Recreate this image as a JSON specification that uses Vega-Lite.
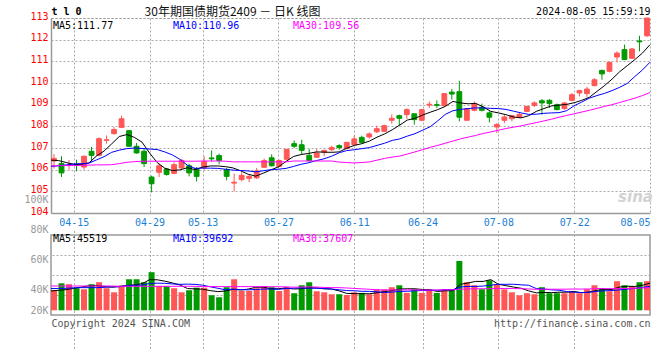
{
"$schema":"https://vega.github.io/schema/vega-lite/v6.json",
"padding":{"left":23,"top":5,"right":5,"bottom":5},
"background":"white",
"bounds":"flush",
"spacing":22,
"config":{"font":"DejaVu Sans Mono","axis":{"labelFont":"DejaVu Sans Mono","labelFontSize":10,"titleFont":"DejaVu Sans Mono","titleFontSize":10,"titleFontWeight":"normal","ticks":false,"labelFlush":false}},
"resolve":{"scale":{"color":"independent","x":"independent","y":"independent"},"legend":{"color":"independent"}},
"datasets":{"k":[
{"d":"04-10","o":106.40,"h":106.72,"l":106.05,"c":106.52,"v":39600,"m5":106.44,"m10":106.15,"m30":106.18,"u5":39100,"u10":40700,"u30":42400},
{"d":"04-11","o":106.28,"h":106.62,"l":105.66,"c":105.85,"v":44200,"m5":106.42,"m10":106.18,"m30":106.18,"u5":39500,"u10":40700,"u30":42400},
{"d":"04-12","o":106.20,"h":106.45,"l":106.00,"c":106.22,"v":43600,"m5":106.33,"m10":106.22,"m30":106.19,"u5":40000,"u10":40900,"u30":42400},
{"d":"04-15","o":106.25,"h":106.46,"l":105.92,"c":106.20,"v":40900,"m5":106.25,"m10":106.26,"m30":106.19,"u5":40800,"u10":41200,"u30":42400},
{"d":"04-16","o":106.12,"h":106.65,"l":106.00,"c":106.62,"v":40200,"m5":106.24,"m10":106.28,"m30":106.20,"u5":41700,"u10":41300,"u30":42400},
{"d":"04-17","o":106.85,"h":107.05,"l":106.38,"c":106.66,"v":43600,"m5":106.31,"m10":106.30,"m30":106.21,"u5":42500,"u10":41300,"u30":42400},
{"d":"04-18","o":106.66,"h":107.49,"l":106.62,"c":107.43,"v":44900,"m5":106.63,"m10":106.45,"m30":106.22,"u5":42640,"u10":41300,"u30":42400},
{"d":"04-19","o":107.35,"h":107.58,"l":107.20,"c":107.38,"v":40900,"m5":106.86,"m10":106.60,"m30":106.22,"u5":42100,"u10":41500,"u30":42400},
{"d":"04-22","o":107.66,"h":107.97,"l":107.62,"c":107.85,"v":38200,"m5":107.19,"m10":106.80,"m30":106.23,"u5":41560,"u10":41900,"u30":42400},
{"d":"04-23","o":107.95,"h":108.49,"l":107.92,"c":108.35,"v":42700,"m5":107.53,"m10":106.90,"m30":106.28,"u5":42060,"u10":41880,"u30":42200},
{"d":"04-24","o":107.80,"h":107.82,"l":107.05,"c":107.08,"v":46900,"m5":107.62,"m10":106.97,"m30":106.34,"u5":42720,"u10":42610,"u30":42200},
{"d":"04-25","o":107.08,"h":107.23,"l":106.74,"c":106.77,"v":46900,"m5":107.49,"m10":107.00,"m30":106.37,"u5":43120,"u10":42880,"u30":42200},
{"d":"04-26","o":106.85,"h":106.95,"l":106.12,"c":106.28,"v":44900,"m5":107.27,"m10":106.98,"m30":106.39,"u5":43920,"u10":43010,"u30":42200},
{"d":"04-29","o":105.66,"h":105.72,"l":104.95,"c":105.35,"v":51600,"m5":106.77,"m10":106.95,"m30":106.39,"u5":46600,"u10":44080,"u30":42200},
{"d":"04-30","o":105.88,"h":106.28,"l":105.66,"c":106.18,"v":42400,"m5":106.33,"m10":106.93,"m30":106.39,"u5":46540,"u10":44300,"u30":42200},
{"d":"05-06","o":106.03,"h":106.08,"l":105.72,"c":105.78,"v":42400,"m5":106.07,"m10":106.82,"m30":106.39,"u5":45640,"u10":44180,"u30":42200},
{"d":"05-07","o":105.83,"h":106.34,"l":105.80,"c":106.23,"v":40900,"m5":105.96,"m10":106.68,"m30":106.39,"u5":44440,"u10":43780,"u30":42200},
{"d":"05-08","o":106.08,"h":106.49,"l":106.00,"c":106.43,"v":38200,"m5":105.99,"m10":106.48,"m30":106.39,"u5":43100,"u10":43510,"u30":42200},
{"d":"05-09","o":106.18,"h":106.28,"l":105.69,"c":105.85,"v":39600,"m5":106.09,"m10":106.20,"m30":106.39,"u5":40700,"u10":43650,"u30":42200},
{"d":"05-10","o":106.05,"h":106.12,"l":105.46,"c":105.69,"v":41300,"m5":106.00,"m10":106.06,"m30":106.39,"u5":40480,"u10":43510,"u30":42200},
{"d":"05-13","o":106.08,"h":106.62,"l":106.00,"c":106.38,"v":41300,"m5":106.12,"m10":106.07,"m30":106.40,"u5":40260,"u10":42950,"u30":42000},
{"d":"05-14","o":106.54,"h":106.89,"l":106.38,"c":106.50,"v":36200,"m5":106.17,"m10":106.07,"m30":106.40,"u5":39320,"u10":41880,"u30":42000},
{"d":"05-15","o":106.65,"h":106.74,"l":106.25,"c":106.42,"v":34900,"m5":106.17,"m10":106.06,"m30":106.40,"u5":38660,"u10":40880,"u30":42000},
{"d":"05-16","o":106.00,"h":106.08,"l":105.51,"c":105.69,"v":41600,"m5":106.14,"m10":106.02,"m30":106.39,"u5":39060,"u10":39880,"u30":42000},
{"d":"05-17","o":105.38,"h":105.82,"l":105.00,"c":105.42,"v":46900,"m5":106.08,"m10":105.98,"m30":106.36,"u5":40180,"u10":40330,"u30":42000},
{"d":"05-20","o":105.54,"h":105.88,"l":105.46,"c":105.74,"v":39100,"m5":105.95,"m10":105.96,"m30":106.36,"u5":39740,"u10":40000,"u30":42000},
{"d":"05-21","o":105.60,"h":105.77,"l":105.42,"c":105.69,"v":39100,"m5":105.79,"m10":105.94,"m30":106.36,"u5":40320,"u10":39820,"u30":42000},
{"d":"05-22","o":105.62,"h":106.08,"l":105.57,"c":105.94,"v":40900,"m5":105.70,"m10":105.90,"m30":106.36,"u5":41520,"u10":40090,"u30":42000},
{"d":"05-23","o":106.11,"h":106.51,"l":106.08,"c":106.42,"v":42200,"m5":105.84,"m10":105.95,"m30":106.36,"u5":41640,"u10":40350,"u30":42000},
{"d":"05-24","o":106.55,"h":106.71,"l":106.15,"c":106.18,"v":41600,"m5":105.99,"m10":106.00,"m30":106.36,"u5":40580,"u10":40380,"u30":41920},
{"d":"05-27","o":106.15,"h":106.46,"l":106.12,"c":106.42,"v":39100,"m5":106.13,"m10":106.02,"m30":106.36,"u5":40580,"u10":40160,"u30":41910},
{"d":"05-28","o":106.48,"h":106.95,"l":106.46,"c":106.94,"v":41600,"m5":106.38,"m10":106.06,"m30":106.36,"u5":41080,"u10":40700,"u30":41820},
{"d":"05-29","o":107.20,"h":107.35,"l":107.00,"c":107.08,"v":37600,"m5":106.61,"m10":106.15,"m30":106.40,"u5":40420,"u10":40970,"u30":41620},
{"d":"05-30","o":107.15,"h":107.38,"l":106.69,"c":106.89,"v":42900,"m5":106.70,"m10":106.25,"m30":106.40,"u5":40560,"u10":41100,"u30":41690},
{"d":"05-31","o":106.66,"h":106.95,"l":106.38,"c":106.42,"v":44900,"m5":106.75,"m10":106.32,"m30":106.40,"u5":41220,"u10":40900,"u30":41840},
{"d":"06-03","o":106.57,"h":106.95,"l":106.54,"c":106.77,"v":38900,"m5":106.82,"m10":106.42,"m30":106.40,"u5":41180,"u10":40880,"u30":41690},
{"d":"06-04","o":106.80,"h":106.92,"l":106.62,"c":106.89,"v":38200,"m5":106.81,"m10":106.50,"m30":106.40,"u5":40500,"u10":40790,"u30":41460},
{"d":"06-05","o":106.92,"h":107.11,"l":106.85,"c":107.02,"v":36900,"m5":106.80,"m10":106.62,"m30":106.40,"u5":40360,"u10":40390,"u30":41330},
{"d":"06-06","o":107.11,"h":107.17,"l":106.92,"c":107.02,"v":36900,"m5":106.82,"m10":106.78,"m30":106.35,"u5":39160,"u10":39860,"u30":41290},
{"d":"06-07","o":106.97,"h":107.28,"l":106.95,"c":107.26,"v":36400,"m5":106.99,"m10":106.88,"m30":106.33,"u5":37460,"u10":39340,"u30":41080},
{"d":"06-11","o":107.15,"h":107.57,"l":107.11,"c":107.42,"v":38200,"m5":107.12,"m10":106.92,"m30":106.31,"u5":37320,"u10":39250,"u30":40790},
{"d":"06-12","o":107.49,"h":107.57,"l":107.23,"c":107.26,"v":37800,"m5":107.20,"m10":106.97,"m30":106.33,"u5":37240,"u10":38870,"u30":40480},
{"d":"06-13","o":107.51,"h":107.72,"l":107.43,"c":107.65,"v":36900,"m5":107.32,"m10":107.02,"m30":106.36,"u5":37240,"u10":38800,"u30":40220},
{"d":"06-14","o":107.75,"h":108.03,"l":107.69,"c":107.89,"v":40200,"m5":107.50,"m10":107.12,"m30":106.44,"u5":37900,"u10":38530,"u30":39840},
{"d":"06-17","o":107.77,"h":108.08,"l":107.74,"c":108.03,"v":40200,"m5":107.65,"m10":107.22,"m30":106.52,"u5":38660,"u10":38060,"u30":39760},
{"d":"06-18","o":108.28,"h":108.55,"l":108.12,"c":108.37,"v":41600,"m5":107.84,"m10":107.35,"m30":106.58,"u5":39340,"u10":38330,"u30":39740},
{"d":"06-19","o":108.49,"h":108.54,"l":108.03,"c":108.37,"v":42900,"m5":108.06,"m10":107.42,"m30":106.63,"u5":40360,"u10":38800,"u30":39800},
{"d":"06-20","o":108.54,"h":108.83,"l":108.34,"c":108.77,"v":37800,"m5":108.29,"m10":107.55,"m30":106.72,"u5":40540,"u10":38890,"u30":39790},
{"d":"06-21","o":108.58,"h":108.58,"l":108.08,"c":108.31,"v":40200,"m5":108.37,"m10":107.66,"m30":106.82,"u5":40540,"u10":39220,"u30":39810},
{"d":"06-24","o":108.28,"h":108.80,"l":108.26,"c":108.77,"v":37800,"m5":108.52,"m10":107.82,"m30":106.92,"u5":40060,"u10":39360,"u30":39690},
{"d":"06-25","o":108.98,"h":109.15,"l":108.85,"c":109.02,"v":40200,"m5":108.65,"m10":107.98,"m30":107.03,"u5":39780,"u10":39560,"u30":39660},
{"d":"06-26","o":109.00,"h":109.20,"l":108.85,"c":108.97,"v":37800,"m5":108.77,"m10":108.25,"m30":107.12,"u5":38760,"u10":39560,"u30":39710},
{"d":"06-27","o":108.95,"h":109.51,"l":108.94,"c":109.51,"v":40200,"m5":108.92,"m10":108.55,"m30":107.22,"u5":39240,"u10":39890,"u30":39890},
{"d":"06-28","o":109.58,"h":109.72,"l":109.23,"c":109.49,"v":40200,"m5":109.15,"m10":108.72,"m30":107.32,"u5":39240,"u10":39890,"u30":39840},
{"d":"07-01","o":109.60,"h":110.10,"l":108.23,"c":108.42,"v":59100,"m5":109.08,"m10":108.78,"m30":107.42,"u5":43500,"u10":41780,"u30":40250},
{"d":"07-02","o":108.28,"h":108.82,"l":108.28,"c":108.82,"v":44900,"m5":109.04,"m10":108.82,"m30":107.50,"u5":44440,"u10":42110,"u30":40440},
{"d":"07-03","o":108.74,"h":109.15,"l":108.69,"c":109.05,"v":42900,"m5":109.06,"m10":108.85,"m30":107.58,"u5":45460,"u10":42110,"u30":40570},
{"d":"07-04","o":108.88,"h":109.05,"l":108.69,"c":108.74,"v":40200,"m5":108.90,"m10":108.85,"m30":107.67,"u5":45460,"u10":42350,"u30":40540},
{"d":"07-05","o":108.62,"h":108.69,"l":108.18,"c":108.42,"v":46200,"m5":108.69,"m10":108.83,"m30":107.74,"u5":46660,"u10":42950,"u30":40680},
{"d":"07-08","o":107.97,"h":108.15,"l":107.69,"c":108.08,"v":43600,"m5":108.62,"m10":108.82,"m30":107.82,"u5":43560,"u10":43530,"u30":40740},
{"d":"07-09","o":108.28,"h":108.54,"l":108.15,"c":108.43,"v":40200,"m5":108.54,"m10":108.78,"m30":107.90,"u5":42620,"u10":43530,"u30":40780},
{"d":"07-10","o":108.35,"h":108.54,"l":108.23,"c":108.49,"v":38200,"m5":108.43,"m10":108.70,"m30":107.96,"u5":41680,"u10":43570,"u30":40670},
{"d":"07-11","o":108.42,"h":108.62,"l":108.38,"c":108.55,"v":36200,"m5":108.39,"m10":108.62,"m30":108.02,"u5":40880,"u10":43170,"u30":40620},
{"d":"07-12","o":108.69,"h":108.92,"l":108.66,"c":108.92,"v":37600,"m5":108.49,"m10":108.55,"m30":108.10,"u5":39160,"u10":42910,"u30":40440},
{"d":"07-15","o":108.97,"h":109.15,"l":108.89,"c":109.08,"v":36900,"m5":108.69,"m10":108.56,"m30":108.17,"u5":37820,"u10":40690,"u30":40180},
{"d":"07-16","o":109.18,"h":109.26,"l":108.54,"c":109.08,"v":41600,"m5":108.82,"m10":108.60,"m30":108.25,"u5":38100,"u10":40360,"u30":40270},
{"d":"07-17","o":109.20,"h":109.26,"l":108.85,"c":109.05,"v":37600,"m5":108.94,"m10":108.62,"m30":108.33,"u5":37980,"u10":39830,"u30":40250},
{"d":"07-18","o":109.00,"h":109.05,"l":108.74,"c":108.77,"v":37600,"m5":108.98,"m10":108.63,"m30":108.42,"u5":38260,"u10":39570,"u30":40270},
{"d":"07-19","o":108.82,"h":109.11,"l":108.77,"c":109.08,"v":37600,"m5":109.01,"m10":108.72,"m30":108.50,"u5":38260,"u10":38710,"u30":40290},
{"d":"07-22","o":109.20,"h":109.54,"l":109.15,"c":109.46,"v":39100,"m5":109.09,"m10":108.95,"m30":108.58,"u5":38700,"u10":38260,"u30":40380},
{"d":"07-23","o":109.54,"h":109.69,"l":109.38,"c":109.65,"v":37600,"m5":109.20,"m10":109.12,"m30":108.66,"u5":37900,"u10":38000,"u30":40360},
{"d":"07-24","o":109.51,"h":109.82,"l":109.35,"c":109.72,"v":40200,"m5":109.34,"m10":109.30,"m30":108.74,"u5":38420,"u10":38200,"u30":40440},
{"d":"07-25","o":109.88,"h":110.22,"l":109.85,"c":110.15,"v":42900,"m5":109.61,"m10":109.42,"m30":108.83,"u5":39480,"u10":38870,"u30":40640},
{"d":"07-26","o":110.58,"h":110.62,"l":110.15,"c":110.42,"v":40900,"m5":109.88,"m10":109.52,"m30":108.92,"u5":40140,"u10":39200,"u30":40670},
{"d":"07-29","o":110.54,"h":111.00,"l":110.49,"c":110.95,"v":38900,"m5":110.18,"m10":109.65,"m30":109.00,"u5":40100,"u10":39400,"u30":40620},
{"d":"07-30","o":111.20,"h":111.46,"l":110.95,"c":111.38,"v":45600,"m5":110.52,"m10":109.80,"m30":109.10,"u5":41700,"u10":39800,"u30":40760},
{"d":"07-31","o":111.54,"h":111.77,"l":111.08,"c":111.08,"v":42900,"m5":110.80,"m10":109.98,"m30":109.20,"u5":42240,"u10":40330,"u30":40760},
{"d":"08-01","o":111.14,"h":111.62,"l":111.11,"c":111.57,"v":42200,"m5":111.08,"m10":110.30,"m30":109.30,"u5":42100,"u10":40790,"u30":40900},
{"d":"08-02","o":111.94,"h":112.18,"l":111.46,"c":111.90,"v":44900,"m5":111.38,"m10":110.60,"m30":109.42,"u5":42900,"u10":41520,"u30":41060},
{"d":"08-05","o":112.18,"h":113.00,"l":112.12,"c":113.00,"v":45600,"m5":111.77,"m10":110.96,"m30":109.56,"u5":44240,"u10":42170,"u30":41320}
]},
"vconcat":[
{
"width":599,"height":195,
"data":{"name":"k"},
"view":{"stroke":null},
"resolve":{"scale":{"x":"independent"},"axis":{"x":"independent"}},
"layer":[
{"mark":{"type":"rule","strokeWidth":1},
 "encoding":{
  "x":{"field":"d","type":"ordinal","scale":{"type":"band","paddingInner":0.2,"paddingOuter":0},
   "axis":{"orient":"top","labels":false,"grid":false,"domain":true,"domainDash":[2,2],"domainColor":"#999999",
    "title":"30年期国债期货2409 － 日K 线图","titleX":181,"titleY":-7,"titleAlign":"center","titleBaseline":"middle","titleFont":"Noto Sans CJK SC","titleFontSize":12,"titleColor":"#111111"}},
  "y":{"field":"l","type":"quantitative","scale":{"domain":[104,113],"zero":false,"nice":false},
   "axis":{"orient":"left","values":[104,105,106,107,108,109,110,111,112,113],"labelColor":"#ff0000","labelPadding":3,"labelOffset":-2,
    "grid":true,"gridDash":[2,2],"gridColor":"#aaaaaa","domain":true,"domainColor":"#999999","domainWidth":1.5,
    "title":"t l 0","titleAngle":0,"titleX":0,"titleY":-7,"titleAlign":"left","titleBaseline":"middle","titleFontWeight":"bold","titleColor":"#000000"}},
  "y2":{"field":"h"},
  "color":{"condition":{"test":"datum.c >= datum.o","value":"#ff5656"},"value":"#009a00"}
 }},
{"mark":{"type":"bar","strokeWidth":1,"width":{"band":0.8}},
 "encoding":{
  "x":{"field":"d","type":"ordinal","scale":{"type":"band","paddingInner":0.2,"paddingOuter":0},"axis":null},
  "y":{"field":"o","type":"quantitative","axis":null},
  "y2":{"field":"c"},
  "fill":{"condition":{"test":"datum.c >= datum.o","value":"#ff5656"},"value":"#009a00"},
  "stroke":{"condition":{"test":"datum.c >= datum.o","value":"#ff5656"},"value":"#009a00"}
 }},
{"transform":[{"fold":["m5","m10","m30"],"as":["k","val"]}],
 "mark":{"type":"line","strokeWidth":1},
 "encoding":{
  "x":{"field":"d","type":"ordinal","scale":{"type":"point","padding":0},
   "axis":{"orient":"bottom","values":["04-15","04-29","05-13","05-27","06-11","06-24","07-08","07-22","08-05"],"labelAngle":0,"labelColor":"#1b7fd5","labelPadding":4,
    "labelAlign":{"condition":{"test":"datum.value == '08-05'","value":"right"},"value":"center"},
    "grid":true,"gridDash":[2,2],"gridColor":"#aaaaaa",
    "domain":true,"domainColor":"#999999","domainWidth":1.5,
    "title":"sina","titleX":584,"titleY":-17,"titleAlign":"center","titleBaseline":"middle","titleFont":"DejaVu Sans","titleFontSize":15,"titleFontWeight":"bold","titleFontStyle":"italic","titleColor":"#d2d2d2"}},
  "y":{"field":"val","type":"quantitative","axis":{"orient":"right","labels":false,"grid":false,"domain":false,
    "title":"2024-08-05 15:59:19","titleAngle":0,"titleX":0,"titleY":-7,"titleAlign":"right","titleBaseline":"middle","titleColor":"#000000"}},
  "color":{"field":"k","type":"nominal","scale":{"domain":["m5","m10","m30"],"range":["#000000","#0000ff","#ff00ff"]},
   "legend":{"orient":"none","legendX":-8,"legendY":3,"direction":"horizontal","columns":3,"gridAlign":"all","columnPadding":43,"title":null,"padding":0,
    "symbolSize":0,"symbolStrokeWidth":0,"symbolOpacity":0,"labelOffset":0,"labelFont":"DejaVu Sans Mono","labelFontSize":10,
    "labelExpr":"datum.value == 'm5' ? 'MA5:111.77' : datum.value == 'm10' ? 'MA10:110.96' : 'MA30:109.56'",
    "labelColor":{"expr":"datum.value == 'm5' ? '#000000' : datum.value == 'm10' ? '#0000ff' : '#ff00ff'"}}}
 }}
]},
{
"width":599,"height":80,
"data":{"name":"k"},
"view":{"stroke":"#999999","strokeWidth":1.5},
"resolve":{"scale":{"x":"independent"},"axis":{"x":"independent"}},
"layer":[
{"mark":{"type":"bar","width":{"band":1}},
 "encoding":{
  "x":{"field":"d","type":"ordinal","scale":{"type":"band","paddingInner":0.2,"paddingOuter":0},"axis":null},
  "y":{"field":"v","type":"quantitative","scale":{"domain":[20000,100000],"range":[84.6,-35.4],"zero":false,"nice":false},
   "axis":{"orient":"left","values":[20000,40000,60000,80000,100000],"labelExpr":"(datum.value / 1000) + 'K'","labelColor":"#999999","labelPadding":3,
    "labelOffset":{"condition":{"test":"datum.value == 20000","value":-9},"value":0},"grid":false,"domain":false,"title":null}},
  "y2":{"datum":26200},
  "color":{"condition":{"test":"datum.c >= datum.o","value":"#ff5656"},"value":"#009a00"}
 }},
{"transform":[{"fold":["u5","u10","u30"],"as":["k","val"]}],
 "mark":{"type":"line","strokeWidth":1},
 "encoding":{
  "x":{"field":"d","type":"ordinal","scale":{"type":"point","padding":0},
   "axis":{"orient":"bottom","values":["04-15","04-29","05-13","05-27","06-11","06-24","07-08","07-22"],"labels":false,"grid":true,"gridDash":[2,2],"gridColor":"#aaaaaa","domain":false,
    "title":"Copyright 2024 SINA.COM","titleX":0,"titleY":8,"titleAlign":"left","titleBaseline":"middle","titleColor":"#555555"}},
  "y":{"field":"val","type":"quantitative","axis":{"orient":"right","values":[36400,49700,63100],"labels":false,"grid":true,"gridDash":[2,2],"gridColor":"#aaaaaa","domain":false,
    "title":"http://finance.sina.com.cn","titleAngle":0,"titleX":0,"titleY":88,"titleAlign":"right","titleBaseline":"middle","titleColor":"#555555"}},
  "color":{"field":"k","type":"nominal","scale":{"domain":["u5","u10","u30"],"range":["#000000","#0000ff","#ff00ff"]},
   "legend":{"orient":"none","legendX":-8,"legendY":-1,"direction":"horizontal","columns":3,"gridAlign":"all","columnPadding":49,"title":null,"padding":0,
    "symbolSize":0,"symbolStrokeWidth":0,"symbolOpacity":0,"labelOffset":0,"labelFont":"DejaVu Sans Mono","labelFontSize":10,
    "labelExpr":"datum.value == 'u5' ? 'MA5:45519' : datum.value == 'u10' ? 'MA10:39692' : 'MA30:37607'",
    "labelColor":{"expr":"datum.value == 'u5' ? '#000000' : datum.value == 'u10' ? '#0000ff' : '#ff00ff'"}}}
 }}
]}
]
}
